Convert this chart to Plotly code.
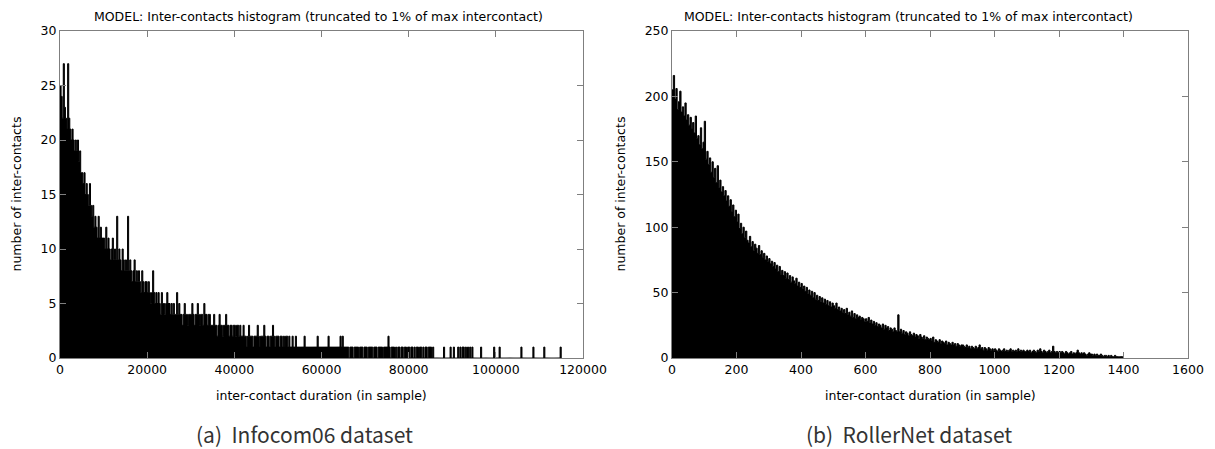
import plotly.graph_objects as go

W, H = 1215, 449

# ---------------- data ----------------
# Left panel: Infocom06, bins of 250 samples starting at 0
infocom_bin = 250
infocom_counts = [
    25, 24, 22, 27, 23, 22, 21, 27, 22, 21, 20, 21, 20, 19, 20, 19, 20, 18, 19, 17,
    17, 16, 17, 15, 16, 15, 14, 16, 14, 13, 14, 12, 13, 12, 11, 13, 11, 12, 11, 11,
    11, 10, 12, 10, 11, 10, 9, 10, 11, 9, 10, 9, 13, 9, 10, 9, 8, 10, 9, 8,
    9, 8, 13, 8, 9, 8, 7, 8, 9, 7, 8, 7, 8, 7, 6, 8, 7, 6, 7, 7,
    6, 7, 6, 5, 6, 8, 6, 5, 6, 5, 6, 5, 4, 6, 5, 5, 4, 5, 6, 5,
    5, 4, 5, 4, 5, 4, 4, 6, 4, 5, 4, 4, 3, 4, 5, 4, 4, 3, 4, 4,
    4, 5, 4, 3, 4, 4, 5, 4, 3, 4, 4, 3, 5, 4, 4, 3, 4, 4, 3, 3,
    3, 4, 3, 3, 2, 3, 4, 3, 3, 2, 3, 3, 4, 3, 3, 2, 3, 3, 2, 3,
    3, 2, 3, 3, 2, 3, 2, 2, 3, 2, 2, 1, 2, 3, 2, 2, 2, 1, 2, 2,
    2, 3, 2, 1, 2, 2, 2, 3, 2, 1, 2, 2, 1, 2, 2, 3, 2, 1, 2, 2,
    2, 1, 2, 2, 1, 2, 1, 2, 2, 1, 2, 1, 1, 2, 1, 1, 2, 1, 1, 1,
    1, 1, 1, 1, 2, 1, 1, 1, 1, 1, 1, 1, 1, 1, 1, 1, 2, 1, 1, 1,
    1, 1, 1, 1, 1, 1, 2, 1, 1, 1, 1, 1, 1, 1, 1, 1, 1, 2, 1, 2,
    1, 1, 1, 1, 1, 0, 1, 1, 1, 0, 1, 1, 1, 1, 0, 1, 1, 1, 0, 1,
    1, 1, 0, 1, 1, 1, 1, 0, 1, 1, 1, 0, 1, 1, 1, 1, 0, 1, 1, 1,
    1, 2, 1, 0, 1, 1, 1, 0, 1, 0, 1, 1, 0, 1, 1, 0, 1, 1, 0, 1,
    1, 0, 1, 1, 0, 1, 0, 1, 1, 0, 1, 1, 0, 1, 0, 1, 1, 0, 1, 1,
    1, 0, 1, 0, 0, 0, 0, 0, 0, 0, 0, 0, 1, 0, 0, 0, 0, 0, 1, 0,
    0, 1, 0, 0, 0, 1, 0, 1, 0, 1, 1, 0, 1, 0, 1, 0, 1, 0, 1, 0,
    0, 0, 0, 0, 0, 0, 1, 0, 0, 0, 0, 0, 0, 0, 0, 0, 0, 0, 1, 0,
    0, 0, 0, 1, 0, 0, 0, 0, 0, 0, 0, 0, 0, 0, 0, 0, 0, 0, 0, 0,
    0, 0, 0, 1, 0, 0, 0, 0, 0, 0, 0, 0, 0, 0, 1, 0, 0, 0, 0, 0,
    0, 0, 0, 0, 1, 0, 0, 0, 0, 0, 0, 0, 0, 0, 0, 0, 0, 0, 0, 1,
]

# Right panel: RollerNet, bins of 4 samples starting at 0
roller_bin = 4
roller_counts = [
    205, 216, 198, 206, 190, 196, 204, 188, 192, 185, 195, 182, 186, 178, 184, 175, 180, 172, 185, 168, 170, 163, 176, 160, 165,
    181, 152, 158, 148, 153, 142, 150, 138, 145, 134, 147, 130, 136, 127, 131, 124, 128, 120, 124, 116, 121, 112, 117, 108, 113,
    104, 110, 99, 103, 95, 100, 92, 97, 90, 88, 93, 85, 89, 82, 87, 84, 80, 86, 79, 82, 77, 80, 75, 78, 74,
    76, 72, 74, 70, 73, 68, 71, 66, 70, 64, 67, 63, 66, 61, 65, 60, 63, 58, 62, 59, 57, 61, 55, 58, 54,
    57, 53, 55, 51, 54, 49, 52, 48, 51, 46, 50, 45, 48, 44, 47, 43, 46, 42, 45, 41, 44, 40, 43, 39, 42,
    40, 38, 42, 37, 39, 36, 38, 35, 37, 34, 38, 33, 35, 32, 36, 31, 34, 30, 33, 31, 32, 29, 31, 30, 28,
    30, 28, 31, 27, 29, 26, 28, 25, 27, 24, 26, 25, 23, 26, 22, 25, 23, 24, 21, 23, 22, 20, 23, 21, 20,
    33, 20, 22, 19, 21, 18, 20, 19, 17, 20, 18, 17, 19, 16, 18, 17, 15, 18, 16, 15, 17, 14, 16, 15, 14,
    15, 13, 16, 12, 14, 13, 12, 14, 11, 13, 12, 11, 13, 10, 12, 11, 10, 12, 10, 11, 9, 11, 10, 9, 10,
    10, 9, 8, 10, 8, 9, 7, 9, 8, 7, 9, 7, 8, 10, 7, 8, 6, 8, 7, 6, 8, 7, 6, 7, 6,
    7, 6, 5, 7, 6, 5, 6, 7, 5, 6, 5, 6, 7, 5, 6, 5, 6, 5, 7, 5, 6, 5, 6, 5, 5,
    6, 5, 6, 4, 5, 6, 5, 4, 6, 5, 7, 5, 4, 6, 5, 4, 5, 6, 4, 5, 9, 5, 4, 5, 4,
    5, 4, 5, 4, 3, 5, 4, 3, 4, 5, 3, 4, 3, 4, 6, 4, 3, 4, 3, 4, 3, 2, 3, 4, 3,
    3, 2, 3, 2, 3, 2, 2, 3, 2, 1, 2, 2, 1, 2, 1, 2, 1, 1, 2, 1, 1, 1, 1, 1, 1,
]

title_text = "MODEL: Inter-contacts histogram (truncated to 1% of max intercontact)"
xlabel_text = "inter-contact duration (in sample)"
ylabel_text = "number of inter-contacts"
caption_a = "(a)  Infocom06 dataset"
caption_b = "(b)  RollerNet dataset"

infocom_xticks = [0, 20000, 40000, 60000, 80000, 100000, 120000]
infocom_yticks = [0, 5, 10, 15, 20, 25, 30]
roller_xticks = [0, 200, 400, 600, 800, 1000, 1200, 1400, 1600]
roller_yticks = [0, 50, 100, 150, 200, 250]

# ---------------- layout geometry (pixels) ----------------
def px_x(p):
    return p / W

def px_y(p):
    return 1 - p / H

L1, R1 = 60, 583
L2, R2 = 672, 1188
TOP, BOT = 31, 358


def step_trace(counts, binw, xa, ya):
    edges = [i * binw for i in range(len(counts) + 1)]
    ys = list(counts) + [0]
    return go.Scatter(
        x=edges, y=ys, mode="lines", line=dict(shape="hv", color="black", width=1),
        fill="tozeroy", fillcolor="black", xaxis=xa, yaxis=ya,
        showlegend=False, hoverinfo="skip",
    )


fig = go.Figure()
fig.add_trace(step_trace(infocom_counts, infocom_bin, "x", "y"))
fig.add_trace(step_trace(roller_counts, roller_bin, "x2", "y2"))

fs = 12.5
tickfont = dict(family="DejaVu Sans", size=fs, color="black")
axis_common = dict(
    showline=True, mirror="ticks", linecolor="#7f7f7f", linewidth=1,
    ticks="inside", ticklen=6, tickcolor="#7f7f7f", tickwidth=1,
    showgrid=False, zeroline=False, tickfont=tickfont, fixedrange=True,
    automargin=False,
)

fig.update_layout(
    template="none",
    width=W, height=H,
    margin=dict(l=0, r=0, t=0, b=0, pad=0),
    paper_bgcolor="white", plot_bgcolor="white",
    xaxis=dict(domain=[px_x(L1), px_x(R1)], range=[0, 120000],
               tickvals=infocom_xticks, ticktext=[str(v) for v in infocom_xticks],
               anchor="y", **axis_common),
    yaxis=dict(domain=[px_y(BOT), px_y(TOP)], range=[0, 30],
               tickvals=infocom_yticks, anchor="x", **axis_common),
    xaxis2=dict(domain=[px_x(L2), px_x(R2)], range=[0, 1600],
                tickvals=roller_xticks, anchor="y2", **axis_common),
    yaxis2=dict(domain=[px_y(BOT), px_y(TOP)], range=[0, 250],
                tickvals=roller_yticks, anchor="x2", **axis_common),
)

labfont = dict(family="DejaVu Sans", size=fs, color="black")
capfont = dict(family="Noto Sans CJK KR", size=21, color="#333333")

ann = []
for cx_title, cx_axis, yl_x in [(318, (L1 + R1) / 2, 16), (908, (L2 + R2) / 2, 620)]:
    ann.append(dict(text=title_text, x=px_x(cx_title), y=px_y(16), xref="paper", yref="paper",
                    showarrow=False, font=labfont, xanchor="center", yanchor="middle"))
    ann.append(dict(text=xlabel_text, x=px_x(cx_axis), y=px_y(395), xref="paper", yref="paper",
                    showarrow=False, font=labfont, xanchor="center", yanchor="middle"))
    ann.append(dict(text=ylabel_text, x=px_x(yl_x), y=px_y((TOP + BOT) / 2), xref="paper", yref="paper",
                    showarrow=False, font=labfont, textangle=-90, xanchor="center", yanchor="middle"))
ann.append(dict(text=caption_a, x=px_x(304), y=px_y(434), xref="paper", yref="paper",
                showarrow=False, font=capfont, xanchor="center", yanchor="middle"))
ann.append(dict(text=caption_b, x=px_x(909), y=px_y(434), xref="paper", yref="paper",
                showarrow=False, font=capfont, xanchor="center", yanchor="middle"))
fig.update_layout(annotations=ann)

fig.write_html(
    "out.html",
    config={"displayModeBar": False},
    post_script="document.body.style.margin='0';document.body.style.overflow='hidden';",
)
